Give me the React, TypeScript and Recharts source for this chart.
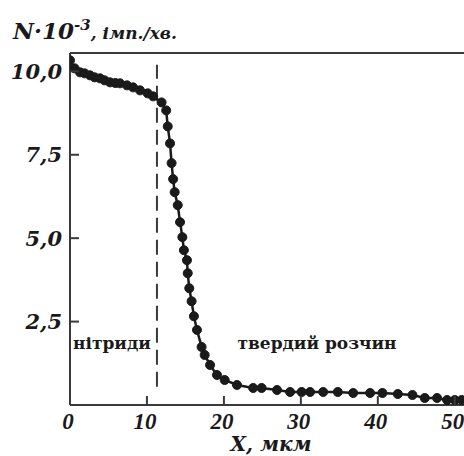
import React from "react";
import {
  LineChart,
  Line,
  XAxis,
  YAxis,
  ReferenceLine,
  ReferenceArea,
  Label,
} from "recharts";

// depth, µm
const depthValues = [
  0, 0.6, 1.3, 1.9, 2.6, 3.2, 3.9, 4.5, 5.2, 5.9, 6.5, 7.4, 8.2, 9.1, 10.1, 10.8,
  11.9, 12.5, 12.7, 13.0, 13.2, 13.4, 13.6, 14.0, 14.3, 14.6, 14.8,
  15.2, 15.3, 15.5, 15.8, 16.1, 16.5, 17.1, 17.5, 18.2, 19.1, 20.1,
  21.7, 23.8, 24.9, 26.9, 28.6, 30.1, 31.2, 32.9, 34.8, 36.8, 39.0, 40.6, 42.6,
  44.5, 46.1, 47.7, 49.0, 50.0, 50.9,
];
// N·10^-3, імп./хв.
const countValues = [
  10.33, 10.09, 9.97, 9.94, 9.88, 9.82, 9.79, 9.73, 9.67, 9.65, 9.64, 9.58, 9.52, 9.43, 9.34, 9.25,
  9.07, 8.83, 8.35, 7.84, 7.25, 6.77, 6.38, 5.99, 5.48, 5.03, 4.64,
  4.34, 3.95, 3.5, 3.11, 2.66, 2.25, 1.74, 1.5, 1.2, 0.9, 0.75,
  0.6, 0.51, 0.51, 0.45, 0.39, 0.39, 0.39, 0.39, 0.39, 0.36, 0.36, 0.36, 0.33,
  0.3, 0.21, 0.21, 0.15, 0.15, 0.15,
];
const xTicks = [0, 10, 20, 30, 40, 50];
const yTicks = [2.5, 5, 7.5, 10];
const boundaryX = 11.3;

const data = depthValues.map((x, i) => ({ x, n: countValues[i] }));

const SERIF = "'Liberation Serif', serif";
const WIDE = "'DejaVu Serif', serif";
const INK = "#1a1a1a";
const AXIS = "#3a3a3a";

const fmt = (v: number) => v.toFixed(1).replace(".", ",");

const YTick = (props: any) => {
  const { x, y, payload } = props;
  const ax = x + 8;
  return (
    <g>
      <line x1={ax} x2={ax + 9} y1={y} y2={y} stroke={AXIS} strokeWidth={2} />
      <text
        x={x}
        y={y}
        dy="0.36em"
        textAnchor="end"
        fontFamily={WIDE}
        fontWeight="bold"
        fontStyle="italic"
        fontSize={21}
        fill={INK}
      >
        {fmt(payload.value)}
      </text>
    </g>
  );
};

const XTick = (props: any) => {
  const { x, y, payload } = props;
  const ay = y - 6;
  return (
    <g>
      {payload.value > 0 && (
        <line x1={x} x2={x} y1={ay} y2={ay - 9} stroke={AXIS} strokeWidth={2} />
      )}
      <text
        x={x - 2}
        y={ay + 24}
        textAnchor="middle"
        fontFamily={SERIF}
        fontWeight="bold"
        fontStyle="italic"
        fontSize={23}
        fill={INK}
      >
        {payload.value}
      </text>
    </g>
  );
};

const regionLabel = (value: string) => (
  <Label
    content={(p: any) => {
      const vb = p.viewBox;
      return (
        <text
          x={vb.x + vb.width / 2}
          y={vb.y + vb.height / 2}
          dy="0.35em"
          textAnchor="middle"
          fontFamily={WIDE}
          fontWeight="bold"
          fontSize={17}
          fill={INK}
        >
          {value}
        </text>
      );
    }}
  />
);

export default function App() {
  return (
    <div
      style={{
        position: "absolute",
        left: 0,
        top: 0,
        width: 464,
        height: 456,
        overflow: "hidden",
        background: "#fff",
      }}
    >
      <div
        style={{
          position: "absolute",
          left: 13,
          top: 19,
          fontFamily: WIDE,
          fontWeight: "bold",
          fontStyle: "italic",
          color: INK,
          whiteSpace: "nowrap",
          lineHeight: "23px",
        }}
      >
        <span style={{ fontSize: 23 }}>N·10</span>
        <span style={{ fontSize: 15, position: "relative", top: -9 }}>-3</span>
        <span style={{ fontSize: 17 }}>, імп./хв.</span>
      </div>
      <LineChart
        width={464}
        height={456}
        data={data}
        margin={{ top: 53, right: 0, bottom: 0, left: 0 }}
      >
        <XAxis
          type="number"
          dataKey="x"
          domain={[0, 51.2]}
          ticks={xTicks}
          allowDataOverflow
          height={51}
          axisLine={{ stroke: AXIS, strokeWidth: 2 }}
          tickLine={false}
          tickSize={0}
          tickMargin={6}
          tick={<XTick />}
        >
          <Label
            content={(p: any) => {
              const vb = p.viewBox;
              return (
                <text
                  x={271}
                  y={vb.y + vb.height - 5}
                  textAnchor="middle"
                  fontFamily={WIDE}
                  fontWeight="bold"
                  fontStyle="italic"
                  fontSize={20}
                  fill={INK}
                >
                  X, мкм
                </text>
              );
            }}
          />
        </XAxis>
        <YAxis
          type="number"
          domain={[0, 10.55]}
          ticks={yTicks}
          allowDataOverflow
          width={70}
          axisLine={{ stroke: AXIS, strokeWidth: 2 }}
          tickLine={false}
          tickSize={0}
          tickMargin={8}
          tick={<YTick />}
        />
        <ReferenceLine y={10.55} stroke={AXIS} strokeWidth={2} />
        <ReferenceLine
          segment={[
            { x: boundaryX, y: 0.55 },
            { x: boundaryX, y: 10.2 },
          ]}
          stroke={AXIS}
          strokeWidth={2}
          strokeDasharray="15 7"
        />
        <ReferenceArea x1={0.3} x2={10.6} y1={1.4} y2={2.3} fill="none" stroke="none">
          {regionLabel("нітриди")}
        </ReferenceArea>
        <ReferenceArea x1={21.6} x2={42.6} y1={1.4} y2={2.3} fill="none" stroke="none">
          {regionLabel("твердий розчин")}
        </ReferenceArea>
        <Line
          type="linear"
          dataKey="n"
          stroke={INK}
          strokeWidth={2.5}
          dot={{ r: 4.5, fill: INK, stroke: INK, strokeWidth: 1 }}
          isAnimationActive={false}
        />
      </LineChart>
    </div>
  );
}
